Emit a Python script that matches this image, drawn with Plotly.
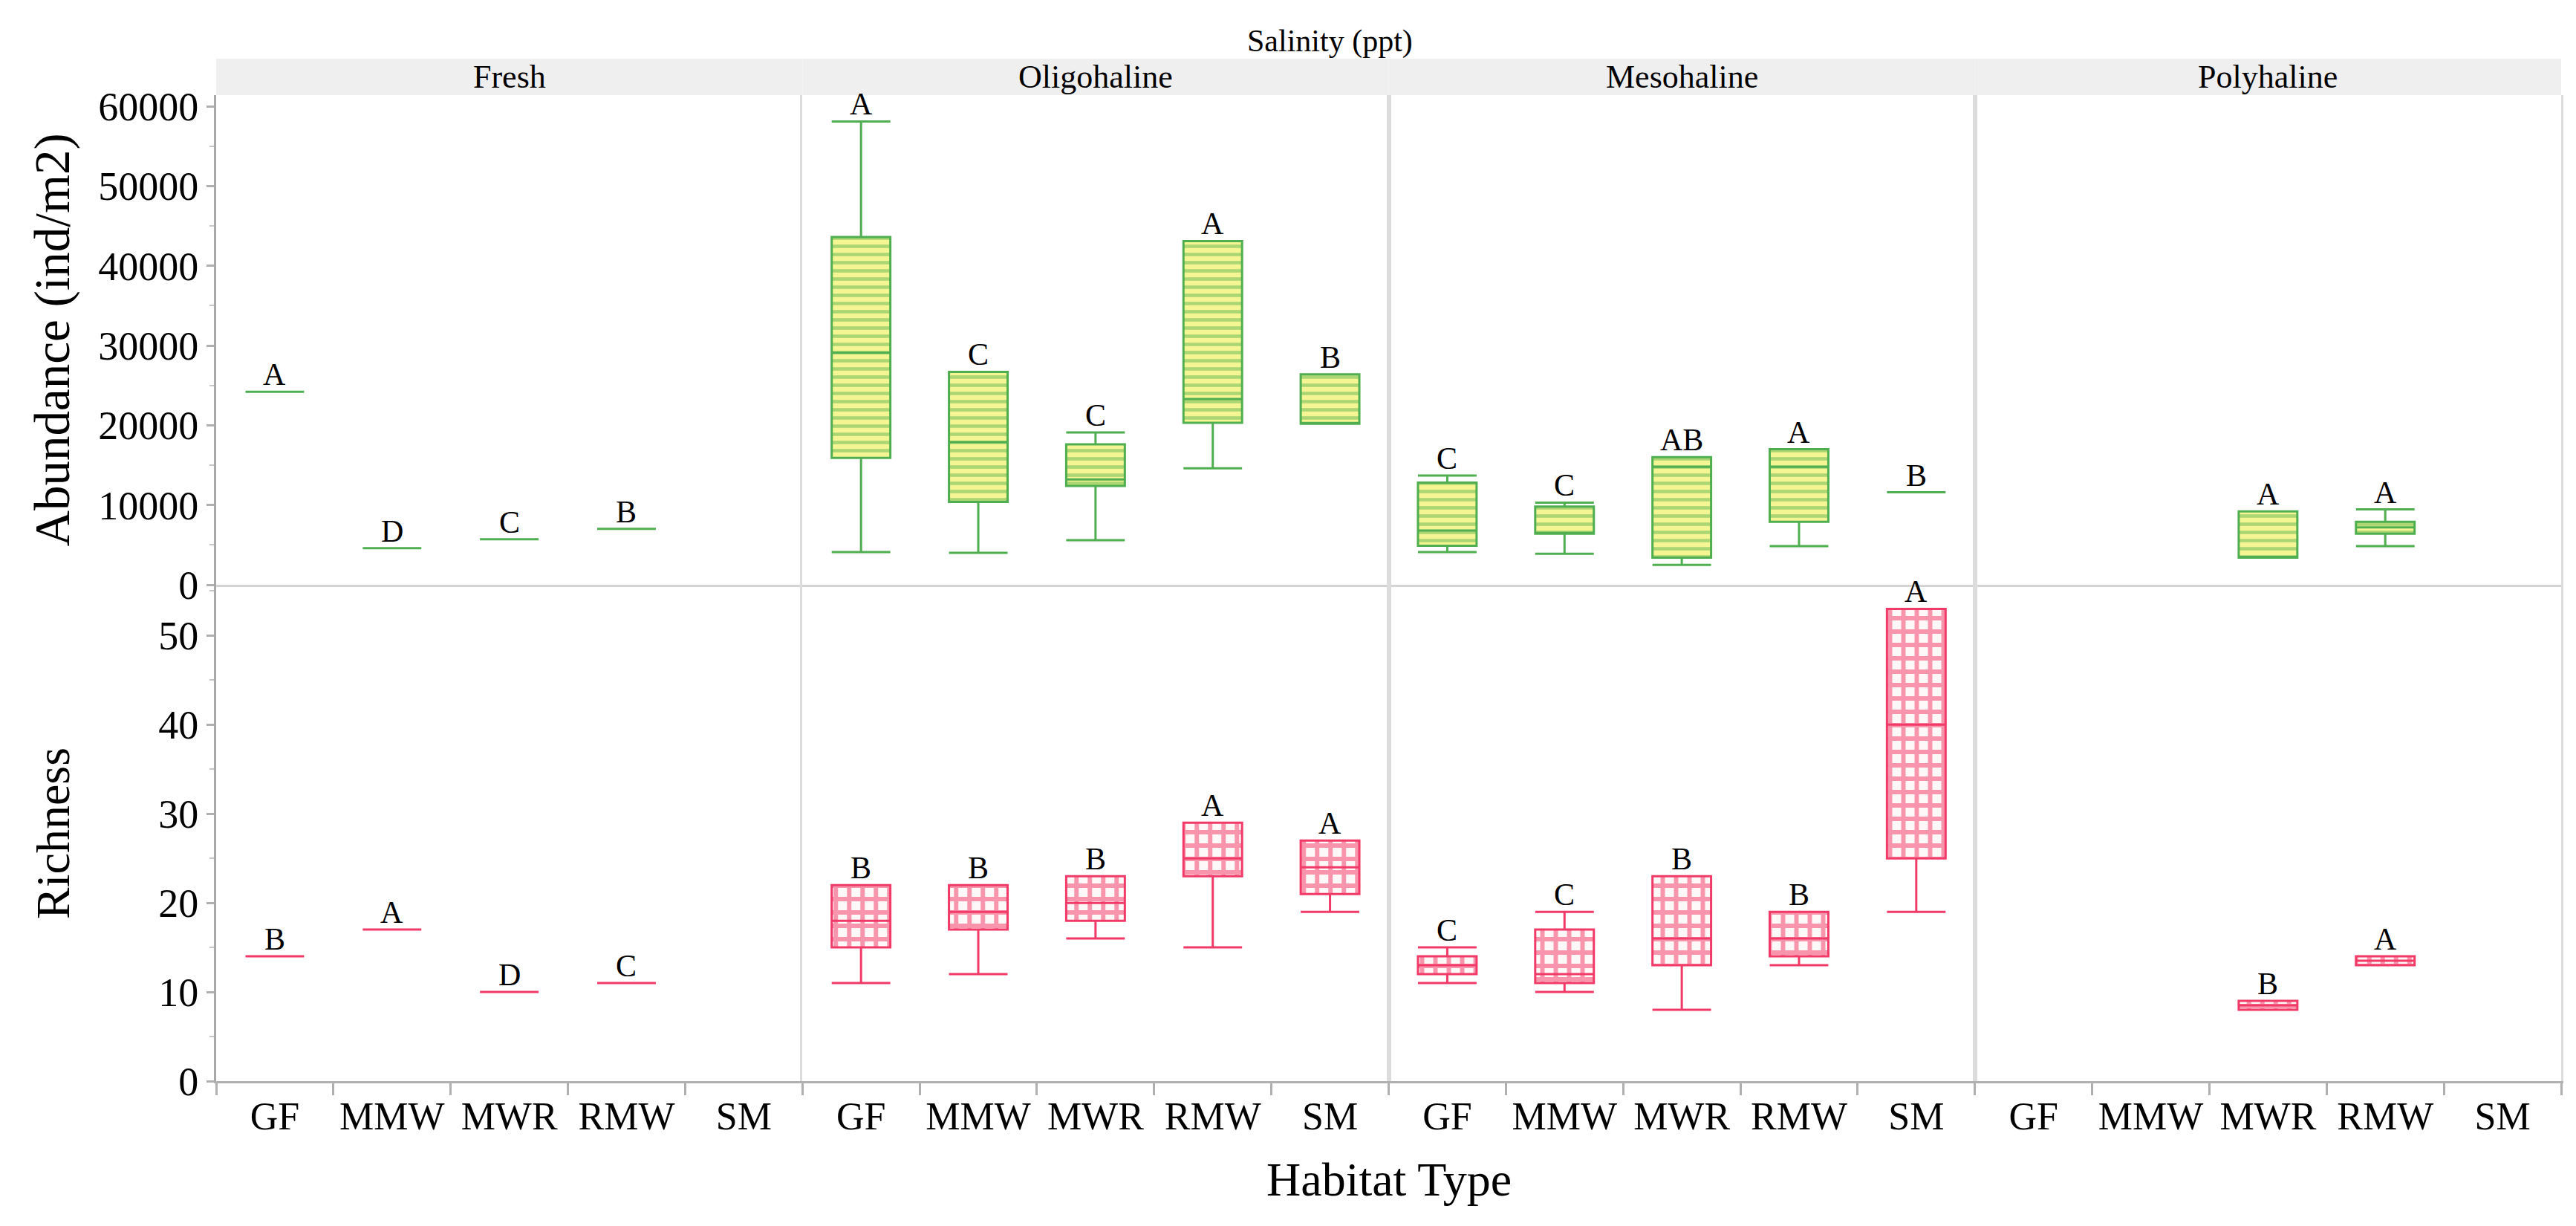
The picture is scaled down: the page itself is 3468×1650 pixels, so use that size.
import plotly.graph_objects as go
from plotly.subplots import make_subplots

# salinity classes (columns) and habitat types (x categories)
salinity = ["Fresh", "Oligohaline", "Mesohaline", "Polyhaline"]
habitats = ["GF", "MMW", "MWR", "RMW", "SM"]

# Abundance (ind/m2), one row per salinity class, None = not sampled
abund_lo = [[24200, 4600, 5700, 7000, None],
            [4100, 4000, 5600, 14600, 20200],
            [4100, 3900, 2500, 4850, 11600],
            [None, None, 3400, 4850, None]]
abund_q1 = [[24200, 4600, 5700, 7000, None],
            [15900, 10400, 12400, 20300, 20200],
            [4900, 6400, 3400, 7900, 11600],
            [None, None, 3400, 6400, None]]
abund_med = [[24200, 4600, 5700, 7000, None],
             [29100, 17900, 13200, 23300, 20200],
             [6800, 6400, 14800, 14800, 11600],
             [None, None, 3400, 7200, None]]
abund_q3 = [[24200, 4600, 5700, 7000, None],
            [43600, 26700, 17600, 43100, 26400],
            [12800, 9800, 16000, 17000, 11600],
            [None, None, 9200, 7900, None]]
abund_hi = [[24200, 4600, 5700, 7000, None],
            [58100, 26700, 19100, 43100, 26400],
            [13700, 10300, 16000, 17000, 11600],
            [None, None, 9200, 9450, None]]
abund_letter = [["A", "D", "C", "B", None],
                ["A", "C", "C", "A", "B"],
                ["C", "C", "AB", "A", "B"],
                [None, None, "A", "A", None]]

# Richness
rich_lo = [[14, 17, 10, 11, None],
           [11, 12, 16, 15, 19],
           [11, 10, 8, 13, 19],
           [None, None, 8, 13, None]]
rich_q1 = [[14, 17, 10, 11, None],
           [15, 17, 18, 23, 21],
           [12, 11, 13, 14, 25],
           [None, None, 8, 13, None]]
rich_med = [[14, 17, 10, 11, None],
            [18, 19, 20, 25, 24],
            [13, 12, 16, 16, 40],
            [None, None, 8.5, 13.5, None]]
rich_q3 = [[14, 17, 10, 11, None],
           [22, 22, 23, 29, 27],
           [14, 17, 23, 19, 53],
           [None, None, 9, 14, None]]
rich_hi = [[14, 17, 10, 11, None],
           [22, 22, 23, 29, 27],
           [15, 19, 23, 19, 53],
           [None, None, 9, 14, None]]
rich_letter = [["B", "A", "D", "C", None],
               ["B", "B", "B", "A", "A"],
               ["C", "C", "B", "B", "A"],
               [None, None, "B", "A", None]]

FONT = "Liberation Serif"
GREEN = "#4fae4f"
PINK = "#f23a68"

metrics = [
    dict(lo=abund_lo, q1=abund_q1, med=abund_med, q3=abund_q3, hi=abund_hi, let=abund_letter,
         line=GREEN, pattern=dict(shape="-", fgcolor="#62b852", bgcolor="#f5f594", size=11, solidity=0.42)),
    dict(lo=rich_lo, q1=rich_q1, med=rich_med, q3=rich_q3, hi=rich_hi, let=rich_letter,
         line=PINK, pattern=dict(shape="+", fgcolor="#f2325f", bgcolor="#fff8f8", size=18, solidity=0.55)),
]

fig = make_subplots(rows=2, cols=4, shared_yaxes=True, horizontal_spacing=0,
                    vertical_spacing=0, row_heights=[659, 668])

for r, m in enumerate(metrics, start=1):
    for c in range(4):
        idx = [j for j in range(5) if m["q1"][c][j] is not None]
        xs = [habitats[j] for j in idx]
        q1 = [m["q1"][c][j] for j in idx]
        q3 = [m["q3"][c][j] for j in idx]
        # hatched fill of the box
        fig.add_trace(go.Bar(x=xs, y=[b - a for a, b in zip(q1, q3)], base=q1, width=0.5,
                             marker=dict(color=m["pattern"]["bgcolor"], pattern=m["pattern"], line_width=0),
                             showlegend=False, hoverinfo="skip"), row=r, col=c + 1)
        # outline, median and whiskers
        fig.add_trace(go.Box(x=xs, q1=q1, q3=q3,
                             median=[m["med"][c][j] for j in idx],
                             lowerfence=[m["lo"][c][j] for j in idx],
                             upperfence=[m["hi"][c][j] for j in idx],
                             width=0.5, whiskerwidth=1, boxpoints=False,
                             line=dict(color=m["line"], width=3),
                             fillcolor="rgba(0,0,0,0)", showlegend=False), row=r, col=c + 1)
        for j in idx:
            fig.add_annotation(x=habitats[j], y=m["hi"][c][j], text=m["let"][c][j],
                               showarrow=False, yanchor="bottom", yshift=-2,
                               font=dict(family=FONT, size=42, color="black"),
                               row=r, col=c + 1)

fig.update_xaxes(type="category", categoryorder="array", categoryarray=habitats,
                 range=[-0.5, 4.5], showline=True, linecolor="#d4d4d4", linewidth=3,
                 showgrid=False, zeroline=False, fixedrange=True)
fig.update_xaxes(row=1, showticklabels=False, ticks="")
fig.update_xaxes(row=2, tickson="boundaries", ticks="outside", ticklen=16, tickwidth=3,
                 tickcolor="#b0b0b0", linecolor="#b0b0b0", tickangle=0,
                 tickfont=dict(family=FONT, size=52, color="black"))

fig.update_yaxes(showgrid=False, zeroline=False, showline=True, mirror=True,
                 linecolor="#dcdcdc", linewidth=3)
fig.update_yaxes(row=1, range=[0, 61400], tickvals=list(range(0, 60001, 10000)), tickformat="d")
fig.update_yaxes(row=2, range=[0, 55.7], tickvals=list(range(0, 51, 10)))
fig.update_yaxes(col=1, mirror=False, ticks="outside", ticklen=10, tickwidth=3, tickcolor="#b0b0b0",
                 linecolor="#a8a8a8",
                 minor=dict(ticks="outside", ticklen=6, tickwidth=2, tickcolor="#c8c8c8"),
                 tickfont=dict(family=FONT, size=54, color="black"))
fig.update_yaxes(row=1, col=1, minor_dtick=5000)
fig.update_yaxes(row=2, col=1, minor_dtick=5)

# grey strips with the salinity class names
for c, name in enumerate(salinity, start=1):
    xd = "x domain" if c == 1 else f"x{c} domain"
    fig.add_shape(type="rect", xref=xd, yref="y domain", x0=0, x1=1, y0=1, y1=1.0744,
                  fillcolor="#efefef", line_width=0, layer="below")
    fig.add_annotation(xref=xd, yref="y domain", x=0.5, y=1.037, text=name, showarrow=False,
                       yanchor="middle", font=dict(family=FONT, size=44, color="black"))

fig.add_annotation(xref="paper", yref="paper", x=0.4751, y=1.0543, text="Salinity (ppt)",
                   showarrow=False, yanchor="middle", font=dict(family=FONT, size=42, color="black"))
fig.add_annotation(xref="paper", yref="paper", x=0.5, y=-0.1002, text="Habitat Type",
                   showarrow=False, yanchor="middle", font=dict(family=FONT, size=64, color="black"))
fig.add_annotation(xref="paper", yref="y domain", x=-0.0697, y=0.5, text="Abundance (ind/m2)",
                   textangle=-90, showarrow=False, xanchor="center", yanchor="middle",
                   font=dict(family=FONT, size=67, color="black"))
fig.add_annotation(xref="paper", yref="y5 domain", x=-0.0697, y=0.5, text="Richness",
                   textangle=-90, showarrow=False, xanchor="center", yanchor="middle",
                   font=dict(family=FONT, size=64, color="black"))

fig.update_layout(width=3468, height=1650, barmode="overlay", boxmode="overlay",
                  margin=dict(l=283, r=28, t=120, b=203),
                  plot_bgcolor="white", paper_bgcolor="white", showlegend=False)

fig.write_html("out.html")
